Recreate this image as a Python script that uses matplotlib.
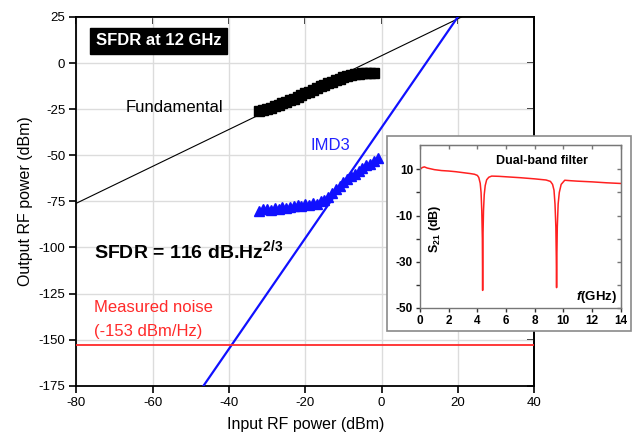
import matplotlib
matplotlib.use("Agg")
import matplotlib.pyplot as plt
from matplotlib.patches import Rectangle
import numpy as np

plt.rcParams['font.family'] = ['Liberation Sans', 'DejaVu Sans']
plt.rcParams['axes.unicode_minus'] = False
plt.rcParams['mathtext.fontset'] = 'custom'
plt.rcParams['mathtext.rm'] = 'Liberation Sans'
plt.rcParams['mathtext.bf'] = 'Liberation Sans:bold'
plt.rcParams['mathtext.it'] = 'Liberation Sans:italic'
plt.rcParams['mathtext.bfit'] = 'Liberation Sans:bold:italic'

# ---------------- data ----------------
fund_x = [-32, -31, -30, -29, -28, -27, -26, -25, -24, -23, -22, -21, -20, -19, -18, -17,
          -16, -15, -14, -13, -12, -11, -10, -9, -8, -7, -6, -5, -4, -3, -2]
fund_y = [-26.2, -25.5, -24.8, -24.2, -23.4, -22.6, -21.8, -21.0, -20.2, -19.3, -18.4, -17.5,
          -16.5, -15.5, -14.5, -13.6, -12.6, -11.7, -10.8, -10.0, -9.2, -8.5, -7.8, -7.2,
          -6.6, -6.1, -5.8, -5.6, -5.5, -5.5, -5.6]

imd_x = [-32, -31, -30, -29, -28, -27, -26, -25, -24, -23, -22, -21, -20, -19, -18, -17,
         -16, -15, -14, -13, -12, -11, -10, -9, -8, -7, -6, -5, -4, -3, -2, -1]
imd_y = [-80.0, -79.0, -79.0, -79.5, -78.5, -79.0, -78.0, -78.5, -78.0, -77.5, -77.0, -77.5,
         -76.5, -77.0, -76.0, -76.5, -75.0, -74.0, -72.5, -70.5, -68.5, -66.5, -64.5, -63.0,
         -61.5, -60.0, -58.5, -57.0, -55.5, -54.5, -53.0, -51.5]

fund_fit_x = [-80, 21]
fund_fit_y = [-76, 25]
imd_fit_x = [-46.67, 20]
imd_fit_y = [-175, 25]
noise_level = -153

s21_f = [0, 0.15, 0.3, 0.5, 1.0, 1.5, 2.0, 2.5, 3.0, 3.5, 3.8, 4.0, 4.1, 4.2, 4.26, 4.31,
         4.35, 4.37, 4.39, 4.43, 4.48, 4.55, 4.65, 4.8, 5.0, 5.5, 6.0, 7.0, 8.0, 8.8, 9.1,
         9.25, 9.35, 9.42, 9.48, 9.51, 9.53, 9.55, 9.58, 9.64, 9.72, 9.85, 10.1, 10.5, 11,
         12, 13, 14]
s21_db = [10.0, 10.8, 11.1, 10.6, 9.9, 9.5, 9.3, 9.0, 8.6, 8.2, 7.9, 7.4, 6.5, 4.0, 0, -8,
          -20, -42.5, -20, -8, -1, 3, 5.5, 6.6, 7.1, 7.0, 6.8, 6.4, 5.9, 5.4, 4.8, 3.5, 1,
          -5, -15, -28, -41.3, -28, -15, -5, 0, 3.5, 5.3, 5.1, 4.9, 4.6, 4.2, 3.9]

x_ticks = [-80, -60, -40, -20, 0, 20, 40]
y_ticks = [25, 0, -25, -50, -75, -100, -125, -150, -175]
in_x_ticks = [0, 2, 4, 6, 8, 10, 12, 14]
in_y_ticks = [10, -10, -30, -50]
in_y_minor = [0, -20, -40]

# ---------------- figure ----------------
fig = plt.figure(figsize=(6.32, 4.40), dpi=100)
ax = fig.add_axes([0.121, 0.1234, 0.724, 0.838])

ax.set_xlim(-80, 40)
ax.set_ylim(-175, 25)
ax.set_xticks(x_ticks)
ax.set_yticks(y_ticks)
ax.grid(True, color='#dcdcdc', linewidth=1.0)
ax.set_axisbelow(True)
ax.tick_params(direction='out', length=5, width=1.2, labelsize=9.5, colors='black', pad=3)
ax.tick_params(axis='x', top=False)
ax.tick_params(axis='y', right=False)
for s in ax.spines.values():
    s.set_linewidth(1.3)

sx = ax.secondary_xaxis('top')
sx.set_xticks(x_ticks)
sx.tick_params(direction='in', length=5, width=1.2, labeltop=False)
sx.spines['top'].set_linewidth(1.3)
sy = ax.secondary_yaxis('right')
sy.set_yticks(y_ticks)
sy.tick_params(direction='in', length=5, width=1.2, labelright=False)
sy.spines['right'].set_linewidth(1.3)

ax.plot(fund_fit_x, fund_fit_y, color='black', linewidth=0.8, zorder=3)
ax.plot(imd_fit_x, imd_fit_y, color='#1010ff', linewidth=1.6, zorder=3)
ax.axhline(noise_level, color='#ff2a2a', linewidth=1.3, zorder=3)

ax.plot(fund_x, fund_y, linestyle='none', marker='s', markersize=6.5, color='black', zorder=4)
ax.plot(imd_x, imd_y, linestyle='none', marker='^', markersize=7, color='#1010ff', zorder=4)

ax.set_xlabel('Input RF power (dBm)', fontsize=11.5, labelpad=6)
ax.set_ylabel('Output RF power (dBm)', fontsize=11.5, labelpad=4)

ax.text(-58.5, 12, 'SFDR at 12 GHz', color='white', fontsize=12, fontweight='bold',
        ha='center', va='center',
        bbox=dict(boxstyle='square,pad=0.35', facecolor='black', edgecolor='black'))
ax.text(-67, -24, 'Fundamental', fontsize=12, ha='left', va='center', color='black')
ax.text(-18.5, -44.5, 'IMD3', fontsize=12, ha='left', va='center', color='#2222ff')
ax.text(-75.5, -101.5, r'SFDR = 116 dB.Hz$^{\mathbf{2/3}}$', fontsize=14, fontweight='bold',
        ha='left', va='center')
ax.text(-75.5, -132.5, 'Measured noise', fontsize=12, color='#ff2a2a', ha='left', va='center')
ax.text(-75.5, -145.5, '(-153 dBm/Hz)', fontsize=12, color='#ff2a2a', ha='left', va='center')

# ---------------- inset ----------------
frame = Rectangle((0.612, 0.248), 0.386, 0.443, transform=fig.transFigure,
                  facecolor='white', edgecolor='#8a8a8a', linewidth=1.2, zorder=1)
fig.patches.append(frame)

ins = fig.add_axes([0.6646, 0.3007, 0.3174, 0.3698], zorder=2)
ins.set_xlim(0, 14)
ins.set_ylim(-50, 20.6)
ins.set_xticks(in_x_ticks)
ins.set_yticks(in_y_ticks)
ins.set_yticks(in_y_minor, minor=True)
ins.tick_params(direction='out', length=3, width=1, labelsize=8.5, pad=2, colors='#333333',
                labelcolor='black')
ins.tick_params(which='minor', direction='out', length=3, width=1, colors='#333333')
for lab in ins.get_xticklabels() + ins.get_yticklabels():
    lab.set_fontweight('bold')
for s in ins.spines.values():
    s.set_color('#777777')
    s.set_linewidth(1.0)
isx = ins.secondary_xaxis('top')
isx.set_xticks(in_x_ticks)
isx.tick_params(direction='in', length=3, width=1, labeltop=False, colors='#777777')
isx.spines['top'].set_color('#777777')
isy = ins.secondary_yaxis('right')
isy.set_yticks(in_y_ticks)
isy.set_yticks(in_y_minor, minor=True)
isy.tick_params(which='both', direction='in', length=3, width=1, labelright=False, colors='#777777')
isy.spines['right'].set_color('#777777')

ins.plot(s21_f, s21_db, color='#ff2020', linewidth=1.1)
ins.text(8.5, 13.6, 'Dual-band filter', fontsize=9, fontweight='bold', ha='center', va='center')
ins.text(1.05, -15.6, r'S$_{\mathbf{21}}$ (dB)', fontsize=9, fontweight='bold', rotation=90,
         ha='center', va='center')
ins.text(13.75, -45.3, r'$\mathbfit{f}$(GHz)', fontsize=9.5, fontweight='bold',
         ha='right', va='center')

fig.savefig('out.png', dpi=100)
